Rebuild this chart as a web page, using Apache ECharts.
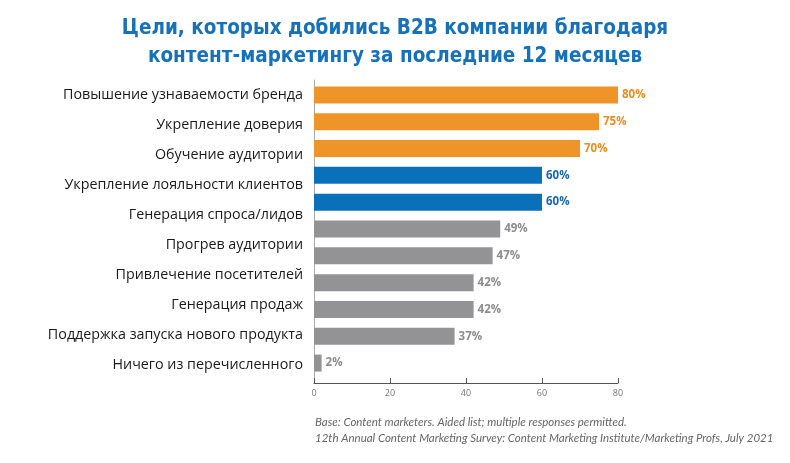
<!DOCTYPE html>
<html><head><meta charset="utf-8">
<script src="https://cdn.jsdelivr.net/npm/echarts@6/dist/echarts.min.js"></script>
<style>html,body{margin:0;padding:0;background:#fff}#c{width:790px;height:463px}</style>
</head><body><div id="c"></div>
<script>
// Category labels (10 labels as shown in the source image)
const categoryLabels = [
  'Повышение узнаваемости бренда',
  'Укрепление доверия',
  'Обучение аудитории',
  'Укрепление лояльности клиентов',
  'Генерация спроса/лидов',
  'Прогрев аудитории',
  'Привлечение посетителей',
  'Генерация продаж',
  'Поддержка запуска нового продукта',
  'Ничего из перечисленного'
];
// Bar values (11 bars as shown in the source image)
const barValues = [80, 75, 70, 60, 60, 49, 47, 42, 42, 37, 2];
const barGroups = ['top', 'top', 'top', 'mid', 'mid', 'rest', 'rest', 'rest', 'rest', 'rest', 'rest'];
const xTicks = [0, 20, 40, 60, 80];
const titleLines = ['Цели, которых добились B2B компании благодаря', 'контент-маркетингу за последние 12 месяцев'];
const footnoteLines = ['Base: Content marketers. Aided list; multiple responses permitted.',
  '12th Annual Content Marketing Survey: Content Marketing Institute/Marketing Profs, July 2021'];

const barColor = { top: '#EE9429', mid: '#0B70BA', rest: '#939396' };
const labelColor = { top: '#EC8D22', mid: '#1867B0', rest: '#8C8C90' };

const chart = echarts.init(document.getElementById('c'));
chart.setOption({
  animation: false,
  title: [
    { text: titleLines.join('\n'), left: 'center', top: 10,
      textStyle: { fontFamily: '"DejaVu Sans Condensed", "Liberation Sans Narrow", Roboto, sans-serif', fontWeight: 'bold', fontSize: 20.5, color: '#1571B9', lineHeight: 28 } },
    { text: footnoteLines.join('\n'), left: 310, top: 409,
      textStyle: { fontFamily: 'Lato', fontStyle: 'italic', fontWeight: 'normal', fontSize: 11.5, color: '#666', lineHeight: 16 } }
  ],
  grid: [
    { left: 314, right: 172, top: 81.5, height: 295 },
    { left: 314, right: 172, top: 80, height: 300 }
  ],
  xAxis: [
    { gridIndex: 0, type: 'value', min: 0, max: 80, interval: 20, show: false },
    { gridIndex: 1, type: 'value', min: xTicks[0], max: xTicks[xTicks.length - 1], interval: 20, offset: 3,
      axisLine: { show: true, lineStyle: { color: '#555', width: 1 } },
      axisTick: { show: true, inside: true, length: 5, lineStyle: { color: '#555' } },
      splitLine: { show: false },
      axisLabel: { color: '#777', fontSize: 9, fontFamily: 'Open Sans', margin: 6 } }
  ],
  yAxis: [
    { gridIndex: 0, type: 'category', inverse: true, data: barValues.map((v, i) => 'b' + i),
      axisLine: { show: true, lineStyle: { color: '#aaa' } }, axisTick: { show: false }, axisLabel: { show: false } },
    { gridIndex: 1, type: 'category', inverse: true, data: categoryLabels,
      axisLine: { show: true, lineStyle: { color: '#aaa' } }, axisTick: { show: false },
      axisLabel: { color: '#1a1a1a', fontSize: 14.3, fontFamily: 'Open Sans', margin: 11 } }
  ],
  series: [{
    type: 'bar', xAxisIndex: 0, yAxisIndex: 0,
    barWidth: 17,
    data: barValues.map((v, i) => ({
      value: v,
      itemStyle: { color: barColor[barGroups[i]] },
      label: { color: labelColor[barGroups[i]] }
    })),
    label: { show: true, position: 'right', distance: 4, formatter: '{c}%',
      fontFamily: 'Open Sans', fontWeight: 'bold', fontSize: 11.5 }
  }]
});
</script></body></html>
